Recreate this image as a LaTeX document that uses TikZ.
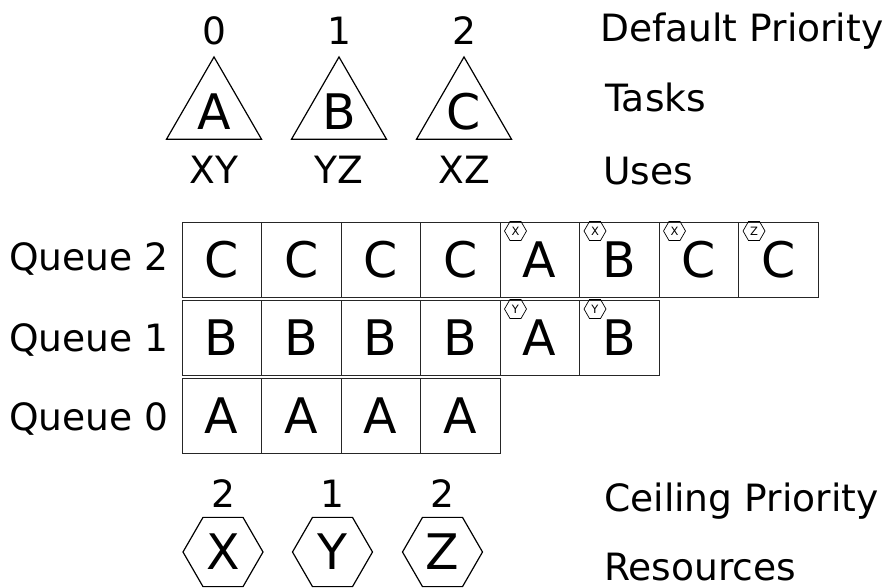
\documentclass[tikz,border=0pt]{standalone}
\usepackage{fontspec}
\setmainfont{DejaVu Sans}
\usetikzlibrary{shapes.geometric}
\begin{document}
\begin{tikzpicture}[x=1pt,y=-1pt,
  lbl/.style={font=\fontsize{37.6}{40}\selectfont, inner sep=0pt},
  big/.style={font=\fontsize{49}{52}\selectfont},
  tri/.style={draw, regular polygon, regular polygon sides=3, minimum size=109.7pt, inner sep=0pt, line width=1.2pt, big},
  hex/.style={draw, regular polygon, regular polygon sides=6, minimum size=80pt, inner sep=0pt, line width=1.2pt, big},
  cell/.style={draw=black!85, minimum width=79.5pt, minimum height=75pt, inner sep=0pt, line width=1pt, big},
  badge/.style={draw, regular polygon, regular polygon sides=6, minimum size=22pt, inner sep=0pt, line width=0.7pt, font=\fontsize{11.5}{12}\selectfont}]
\useasboundingbox (0,0) rectangle (888,588);

% tasks
\node[tri] (tA) at (214,111.8) {A};
\node[tri] (tB) at (339,111.8) {B};
\node[tri] (tC) at (464,111.8) {C};
\node[lbl,anchor=base] (pA) at (214,45) {0};
\node[lbl,anchor=base] (pB) at (339,45) {1};
\node[lbl,anchor=base] (pC) at (464,45) {2};
\node[lbl,anchor=base] (uA) at (214,183) {XY};
\node[lbl,anchor=base] (uB) at (339,183) {YZ};
\node[lbl,anchor=base] (uC) at (464,183) {XZ};

% right labels
\node[lbl,anchor=base west] (hdp) at (600,42) {Default Priority};
\node[lbl,anchor=base west] (htk) at (605,112) {Tasks};
\node[lbl,anchor=base west] (hus) at (603,185) {Uses};
\node[lbl,anchor=base west] (hcp) at (604,511) {Ceiling Priority};
\node[lbl,anchor=base west] (hrs) at (604,580) {Resources};

% queue labels
\node[lbl,anchor=base west] (lq2) at (9,270) {Queue 2};
\node[lbl,anchor=base west] (lq1) at (9,351) {Queue 1};
\node[lbl,anchor=base west] (lq0) at (9,430) {Queue 0};

% queues
\foreach \t [count=\i from 0] in {C,C,C,C,A,B,C,C}
  \node[cell] (q2c\i) at (221.75+79.5*\i,259.5) {\t};
\foreach \t [count=\i from 0] in {B,B,B,B,A,B}
  \node[cell] (q1c\i) at (221.75+79.5*\i,337.5) {\t};
\foreach \t [count=\i from 0] in {A,A,A,A}
  \node[cell] (q0c\i) at (221.75+79.5*\i,415.5) {\t};

% badges
\node[badge] (b24) at ([shift={(16,9.5)}]q2c4.north west) {X};
\node[badge] (b25) at ([shift={(16,9.5)}]q2c5.north west) {X};
\node[badge] (b26) at ([shift={(16,9.5)}]q2c6.north west) {X};
\node[badge] (b27) at ([shift={(16,9.5)}]q2c7.north west) {Z};
\node[badge] (b14) at ([shift={(16,9.5)}]q1c4.north west) {Y};
\node[badge] (b15) at ([shift={(16,9.5)}]q1c5.north west) {Y};

% resources
\node[hex] (rX) at (223,552) {X};
\node[hex] (rY) at (332.5,552) {Y};
\node[hex] (rZ) at (442.5,552) {Z};
\node[lbl,anchor=base] (cX) at (223,507) {2};
\node[lbl,anchor=base] (cY) at (332.5,507) {1};
\node[lbl,anchor=base] (cZ) at (442.5,507) {2};
\end{tikzpicture}
\end{document}
